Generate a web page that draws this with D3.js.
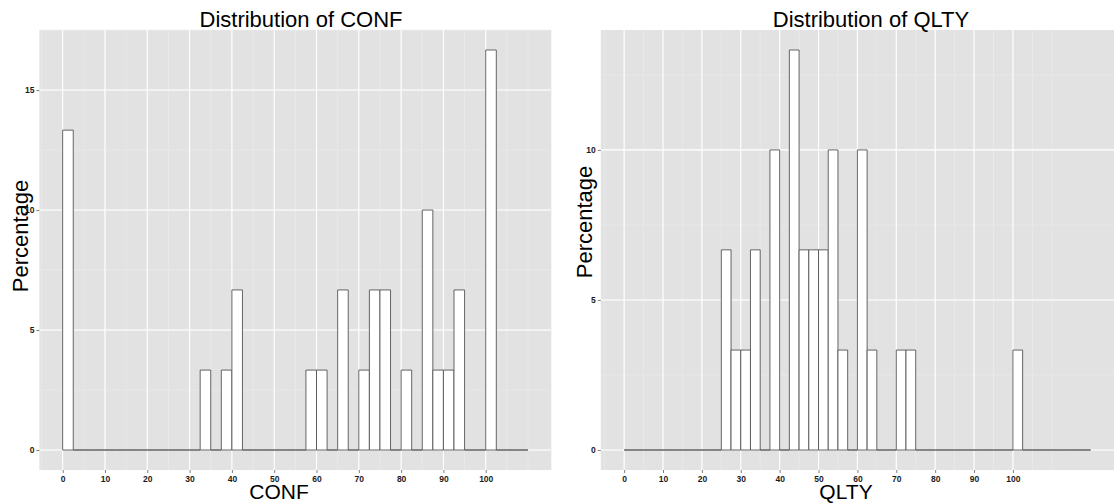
<!DOCTYPE html>
<html>
<head>
	<title>Distribution of CONF and QLTY</title>
	<script src="https://d3js.org/d3.v7.min.js"></script>
	<style>
		body { margin: 0; background: #fff; }
		text { font-family: "Liberation Sans", Arial, sans-serif; }
	</style>
</head>
<body>
<script>
	// bin width 2.5, bins start at 0
	var binWidth = 2.5;
	// percentage per bin, CONF (0 .. 110)
	var confPct = [
		13.33, 0, 0, 0, 0, 0, 0, 0, 0, 0, 0, 0, 0,
		3.33, 0, 3.33, 6.67,
		0, 0, 0, 0, 0, 0,
		3.33, 3.33, 0, 6.67, 0, 3.33, 6.67, 6.67, 0, 3.33, 0,
		10, 3.33, 3.33, 6.67, 0, 0,
		16.67, 0, 0, 0
	];
	// percentage per bin, QLTY (0 .. 120)
	var qltyPct = [
		0, 0, 0, 0, 0, 0, 0, 0, 0, 0,
		6.67, 3.33, 3.33, 6.67, 0, 10, 0, 13.33, 6.67, 6.67, 6.67, 10, 3.33, 0,
		10, 3.33, 0, 0, 3.33, 3.33,
		0, 0, 0, 0, 0, 0, 0, 0, 0, 0,
		3.33, 0, 0, 0, 0, 0, 0, 0
	];
	var xTicks = [0, 10, 20, 30, 40, 50, 60, 70, 80, 90, 100];
	var confYTicks = [0, 5, 10, 15];
	var qltyYTicks = [0, 5, 10];

	var svg = d3.select('body').append('svg')
		.attr('width', 1116)
		.attr('height', 504);

	function drawPanel(p) {
		var n = p.values.length;
		var xMax = n * binWidth;
		var yMax = d3.max(p.values);
		var xPad = xMax * 0.05, yPad = yMax * 0.05;

		var x = d3.scaleLinear().domain([-xPad, xMax + xPad]).range([p.left, p.right]);
		var y = d3.scaleLinear().domain([-yPad, yMax + yPad]).range([p.bottom, p.top]);

		var g = svg.append('g');

		g.append('rect')
			.attr('x', p.left).attr('y', p.top)
			.attr('width', p.right - p.left).attr('height', p.bottom - p.top)
			.attr('fill', '#e2e2e2');

		// minor grid, ggplot style (midpoints, one step beyond the majors)
		var xStep = xTicks[1] - xTicks[0];
		var xMinor = d3.range(xTicks[0] - xStep, xTicks[xTicks.length - 1] + xStep + 0.01, xStep / 2)
			.filter(function(v) { return v >= -xPad && v <= xMax + xPad; });
		var yStep = p.yTicks[1] - p.yTicks[0];
		var yMinor = d3.range(p.yTicks[0] - yStep, p.yTicks[p.yTicks.length - 1] + yStep + 0.01, yStep / 2)
			.filter(function(v) { return v >= -yPad && v <= yMax + yPad; });

		g.selectAll('.xminor').data(xMinor).enter().append('line')
			.attr('x1', function(d) { return x(d); }).attr('x2', function(d) { return x(d); })
			.attr('y1', p.top).attr('y2', p.bottom)
			.attr('stroke', '#ececec').attr('stroke-width', 0.6);
		g.selectAll('.yminor').data(yMinor).enter().append('line')
			.attr('y1', function(d) { return y(d); }).attr('y2', function(d) { return y(d); })
			.attr('x1', p.left).attr('x2', p.right)
			.attr('stroke', '#ececec').attr('stroke-width', 0.6);
		g.selectAll('.xmajor').data(xTicks).enter().append('line')
			.attr('x1', function(d) { return x(d); }).attr('x2', function(d) { return x(d); })
			.attr('y1', p.top).attr('y2', p.bottom)
			.attr('stroke', '#ffffff').attr('stroke-width', 1.1);
		g.selectAll('.ymajor').data(p.yTicks).enter().append('line')
			.attr('y1', function(d) { return y(d); }).attr('y2', function(d) { return y(d); })
			.attr('x1', p.left).attr('x2', p.right)
			.attr('stroke', '#ffffff').attr('stroke-width', 1.1);

		// bars, zero bins drawn as flat outlines
		g.selectAll('.bar').data(p.values).enter().append('path')
			.attr('class', 'bar')
			.attr('d', function(d, i) {
				var x0 = x(i * binWidth), x1 = x((i + 1) * binWidth);
				var y0 = y(0), y1 = y(d);
				return 'M' + x0 + ',' + y0 + 'L' + x0 + ',' + y1 + 'L' + x1 + ',' + y1 + 'L' + x1 + ',' + y0 + 'Z';
			})
			.attr('fill', '#ffffff')
			.attr('stroke', '#555555')
			.attr('stroke-width', 0.9);

		// axes
		var xAxis = d3.axisBottom(x).tickValues(xTicks).tickSize(3).tickPadding(3);
		var xg = g.append('g').attr('transform', 'translate(0,' + p.bottom + ')').call(xAxis);
		var yAxis = d3.axisLeft(y).tickValues(p.yTicks).tickSize(3).tickPadding(2);
		var yg = g.append('g').attr('transform', 'translate(' + p.left + ',0)').call(yAxis);
		[xg, yg].forEach(function(a) {
			a.select('.domain').remove();
			a.selectAll('.tick line').attr('stroke', '#7f7f7f');
			a.selectAll('.tick text')
				.attr('fill', '#1a1a1a')
				.style('font-size', '8.5px')
				.style('font-weight', 'bold')
				.style('font-family', '"Liberation Sans", Arial, sans-serif');
		});

		g.append('text')
			.attr('x', p.titleX).attr('y', 27)
			.attr('text-anchor', 'middle')
			.style('font-size', '22px')
			.attr('fill', '#000')
			.text(p.title);
		g.append('text')
			.attr('x', p.xLabelX).attr('y', 499)
			.attr('text-anchor', 'middle')
			.style('font-size', '21px')
			.attr('fill', '#000')
			.text(p.xLabel);
		g.append('text')
			.attr('transform', 'translate(' + p.yLabelX + ',' + p.yLabelY + ') rotate(-90)')
			.attr('text-anchor', 'middle')
			.style('font-size', '22px')
			.attr('fill', '#000')
			.text('Percentage');
	}

	drawPanel({
		values: confPct, yTicks: confYTicks,
		left: 39.4, right: 551.3, top: 30, bottom: 470,
		title: 'Distribution of CONF', titleX: 301,
		xLabel: 'CONF', xLabelX: 279,
		yLabelX: 28, yLabelY: 236
	});
	drawPanel({
		values: qltyPct, yTicks: qltyYTicks,
		left: 600.8, right: 1114, top: 30, bottom: 470,
		title: 'Distribution of QLTY', titleX: 871,
		xLabel: 'QLTY', xLabelX: 846,
		yLabelX: 592, yLabelY: 222
	});
</script>
</body>
</html>
